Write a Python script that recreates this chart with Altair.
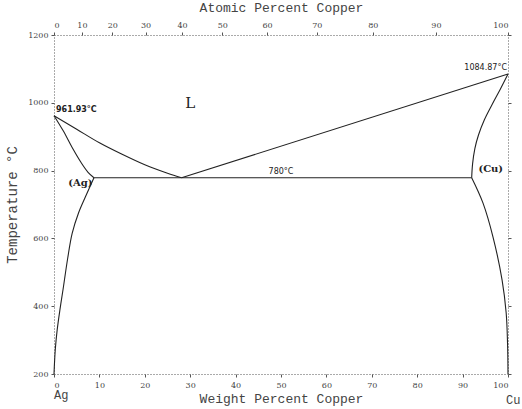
import altair as alt
import pandas as pd

# ---- data (weight percent Cu, temperature in C) ----
liq_ag_x = [0, 5, 10, 15, 20, 25, 28.1]
liq_ag_y = [961.93, 922, 882, 848, 817, 792, 779]

liq_cu_x = [28.1, 100]
liq_cu_y = [779, 1084.87]

sol_ag_x = [0, 2, 4, 6, 7.5, 8.8]
sol_ag_y = [961.93, 918, 868, 823, 795, 779]

solv_ag_x = [8.8, 7.0, 5.4, 4.0, 3.0, 2.0, 1.3, 0.7, 0.3, 0.1, 0.0]
solv_ag_y = [779, 725, 675, 615, 540, 450, 389, 330, 275, 230, 200]

sol_cu_x = [100, 98.3, 96.5, 94.8, 93.5, 92.7, 92.2, 92.0]
sol_cu_y = [1084.87, 1040, 995, 950, 905, 865, 820, 779]

solv_cu_x = [92.0, 94.5, 96.7, 98.7, 99.6, 99.9, 100]
solv_cu_y = [779, 704, 604, 477, 380, 290, 200]

eut_x = [8.8, 92.0]
eut_y = [779, 779]

x_ticks = [0, 10, 20, 30, 40, 50, 60, 70, 80, 90, 100]
y_ticks = [200, 400, 600, 800, 1000, 1200]
at_ticks = [0, 10, 20, 30, 40, 50, 60, 70, 80, 90, 100]

M_CU, M_AG = 63.546, 107.868
wt_from_at = [0.0 if a == 0 else 100.0 * a * M_CU / (a * M_CU + (100 - a) * M_AG) for a in at_ticks]

labels_text = ["961.93\u00b0C", "1084.87\u00b0C", "780\u00b0C"]
labels_x = [0, 100, 50]
labels_y = [961.93, 1084.87, 779]
labels_align = ["left", "right", "center"]

phase_text = ["L", "(Ag)", "(Cu)"]
phase_x = [30, 5.8, 96.2]
phase_y = [1000, 763, 805]

# ---- build tables ----
rows = []
for name, xs, ys in [("liq_ag", liq_ag_x, liq_ag_y), ("liq_cu", liq_cu_x, liq_cu_y),
                     ("sol_ag", sol_ag_x, sol_ag_y), ("solv_ag", solv_ag_x, solv_ag_y),
                     ("sol_cu", sol_cu_x, sol_cu_y), ("solv_cu", solv_cu_x, solv_cu_y),
                     ("eut", eut_x, eut_y)]:
    for i, (x, y) in enumerate(zip(xs, ys)):
        rows.append({"seg": name, "i": i, "wt": x, "T": y})
df = pd.DataFrame(rows)

xscale = alt.Scale(domain=[0, 100], nice=False, zero=False)
yscale = alt.Scale(domain=[200, 1200], nice=False, zero=False)

TICKFONT = "DejaVu Serif"
TITLEFONT = "Liberation Mono"
INK = "#222222"


def px(field="wt"):
    return alt.X(f"{field}:Q", scale=xscale, axis=None)


def py(field="T"):
    return alt.Y(f"{field}:Q", scale=yscale, axis=None)


lines = alt.Chart(df).mark_line(interpolate="catmull-rom", color=INK, strokeWidth=1.1).encode(
    x=alt.X("wt:Q", scale=xscale,
            axis=alt.Axis(values=x_ticks, title="Weight Percent Copper", orient="bottom",
                          grid=False, domainDash=[1, 2], domainColor="#555", tickColor="#555",
                          tickSize=3, labelFont=TICKFONT, labelFontSize=8, labelColor="#444",
                          labelPadding=4, titleFont=TITLEFONT, titleFontSize=13,
                          titleFontWeight="normal", titleColor="#444", titlePadding=3)),
    y=alt.Y("T:Q", scale=yscale,
            axis=alt.Axis(values=y_ticks, format="d", title="Temperature \u00b0C", grid=False,
                          domainDash=[1, 2], domainColor="#555", tickColor="#555",
                          tickSize=3, labelFont=TICKFONT, labelFontSize=8, labelColor="#444",
                          labelPadding=3, titleFont=TITLEFONT, titleFontSize=14,
                          titleFontWeight="normal", titleColor="#444", titlePadding=8)),
    detail="seg:N",
    order="i:Q",
)

top_df = pd.DataFrame({"wt": wt_from_at, "T": [1200] * len(wt_from_at)})
top_axis = alt.Chart(top_df).mark_point(opacity=0).encode(
    x=alt.X("wt:Q", scale=xscale,
            axis=alt.Axis(values=wt_from_at, orient="top", title="Atomic Percent Copper",
                          labelExpr="round(100*(datum.value/63.546)/((datum.value/63.546)+((100-datum.value)/107.868)))",
                          grid=False, domainDash=[1, 2], domainColor="#555", tickColor="#555",
                          tickSize=3, labelFont=TICKFONT, labelFontSize=8, labelColor="#444",
                          labelPadding=3, titleFont=TITLEFONT, titleFontSize=13,
                          titleFontWeight="normal", titleColor="#444", titlePadding=7)),
    y=py(),
)

right_axis = alt.Chart(top_df).mark_point(opacity=0).encode(
    x=px(),
    y=alt.Y("T:Q", scale=yscale,
            axis=alt.Axis(orient="right", values=y_ticks, labels=False, title=None, grid=False,
                          domainDash=[1, 2], domainColor="#555", tickColor="#555", tickSize=3)),
)

ann_df = pd.DataFrame({"txt": labels_text, "wt": labels_x, "T": labels_y, "al": labels_align})
ann_left = alt.Chart(ann_df[ann_df.al == "left"]).mark_text(
    align="left", baseline="bottom", dx=2, dy=-2, font="DejaVu Sans", fontSize=8,
    fontWeight="bold", color=INK).encode(x=px(), y=py(), text="txt:N")
ann_right = alt.Chart(ann_df[ann_df.al == "right"]).mark_text(
    align="right", baseline="bottom", dx=-1, dy=-2, font="DejaVu Sans", fontSize=8,
    color=INK).encode(x=px(), y=py(), text="txt:N")
ann_mid = alt.Chart(ann_df[ann_df.al == "center"]).mark_text(
    align="center", baseline="bottom", dy=-2, font="DejaVu Sans", fontSize=8,
    color=INK).encode(x=px(), y=py(), text="txt:N")

ph_df = pd.DataFrame({"txt": phase_text, "wt": phase_x, "T": phase_y})
phases_L = alt.Chart(ph_df[ph_df.txt == "L"]).mark_text(
    font="DejaVu Serif", fontSize=15, color=INK).encode(x=px(), y=py(), text="txt:N")
phases_s = alt.Chart(ph_df[ph_df.txt != "L"]).mark_text(
    font="DejaVu Serif", fontSize=10, fontWeight="bold", color=INK).encode(x=px(), y=py(), text="txt:N")

end_df = pd.DataFrame({"txt": ["Ag", "Cu"], "wt": [0, 100], "T": [200, 200]})
ends_ag = alt.Chart(end_df[end_df.txt == "Ag"]).mark_text(
    align="left", baseline="top", dy=16, font=TITLEFONT, fontSize=12, color="#444").encode(
    x=px(), y=py(), text="txt:N")
ends_cu = alt.Chart(end_df[end_df.txt == "Cu"]).mark_text(
    align="left", baseline="top", dx=-2, dy=21, font=TITLEFONT, fontSize=12, color="#444").encode(
    x=px(), y=py(), text="txt:N")

chart = alt.layer(
    lines, top_axis, right_axis, ann_left, ann_right, ann_mid, phases_L, phases_s, ends_ag, ends_cu
).resolve_axis(x="independent", y="independent").properties(
    width=454, height=339,
    autosize=alt.AutoSizeParams(type="none"),
    padding={"left": 54, "top": 35, "right": 14, "bottom": 35},
    background="white",
).configure_view(stroke=None)

chart.save("out.html", embed_options={"renderer": "svg", "actions": False})
